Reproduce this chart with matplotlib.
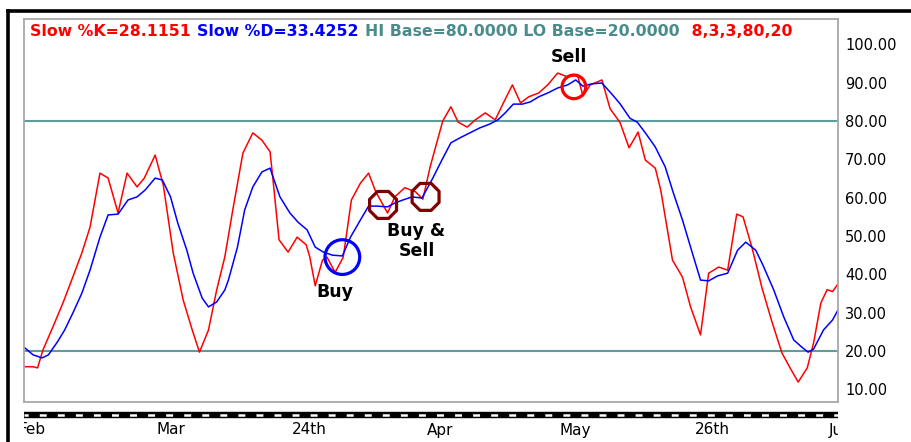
import matplotlib
matplotlib.use("Agg")
import matplotlib.pyplot as plt
from matplotlib.lines import Line2D
from matplotlib.ticker import FormatStrFormatter

plt.rcParams["lines.scale_dashes"] = False

# trading-day index (0 = left edge of the panel) and stochastic values
k_day = [0.1, 1.0, 1.5, 2.1, 3.2, 4.3, 5.4, 6.4, 7.3, 8.4, 9.3, 10.4, 11.4, 12.5,
         13.3, 14.5, 15.4, 16.5, 17.6, 18.6, 19.4, 20.4, 21.3, 22.2, 23.1, 24.2,
         25.3, 26.3, 27.2, 27.5, 28.2, 29.2, 30.2, 31.2, 31.6, 32.2, 33.0, 33.5,
         34.4, 35.3, 36.2, 37.2, 38.1, 38.9, 40.2, 41.0, 42.1, 43.3, 44.1, 44.9,
         46.3, 47.2, 48.0, 49.0, 49.9, 51.0, 52.1, 53.0, 54.0, 54.9, 55.8, 56.9,
         57.9, 59.0, 60.1, 61.2, 61.8, 62.6, 63.9, 64.8, 65.9, 66.9, 67.9, 68.7,
         69.8, 70.4, 71.7, 72.8, 73.7, 74.8, 75.7, 76.8, 77.8, 78.8, 79.5, 80.5,
         81.6, 82.7, 83.8, 84.7, 85.6, 86.6, 87.3, 88.1, 88.8, 89.4, 90.0]
k_val = [15.9, 15.9, 15.6, 20.3, 26.3, 32.5, 39.3, 45.6, 52.3, 66.4, 65.1, 56.0,
         66.4, 62.8, 65.1, 71.1, 63.3, 45.6, 33.3, 25.5, 19.7, 25.5, 35.9, 44.5,
         57.0, 71.6, 76.9, 75.0, 72.0, 65.4, 49.0, 45.8, 49.7, 47.7, 44.5, 37.0,
         43.7, 44.5, 40.5, 44.5, 59.4, 63.8, 66.4, 61.5, 56.0, 60.2, 62.6, 61.5,
         59.6, 68.0, 80.0, 83.7, 79.7, 78.4, 80.3, 82.1, 80.3, 84.7, 89.4, 84.7,
         86.3, 87.3, 89.4, 92.5, 91.5, 92.0, 86.5, 89.4, 90.7, 83.2, 79.6, 73.0,
         77.1, 69.8, 67.7, 62.0, 43.7, 39.3, 31.5, 24.2, 40.3, 41.9, 41.1, 55.7,
         55.0, 46.9, 36.4, 27.6, 19.5, 15.6, 11.9, 15.6, 22.1, 32.5, 36.0, 35.5,
         37.5]

d_day = [0.1, 1.0, 2.0, 2.7, 3.7, 4.5, 5.4, 6.4, 7.3, 8.4, 9.3, 10.4, 11.5, 12.5,
         13.4, 14.5, 15.3, 16.2, 17.0, 18.0, 18.7, 19.7, 20.4, 21.3, 22.2, 22.6,
         23.6, 24.4, 25.3, 26.3, 27.2, 28.3, 29.4, 30.3, 31.3, 32.2, 33.1, 34.1,
         35.2, 36.1, 37.2, 38.1, 39.0, 40.2, 41.0, 41.9, 42.9, 44.0, 45.2, 46.2,
         47.2, 48.2, 49.3, 50.4, 51.5, 52.4, 53.2, 54.1, 55.1, 56.0, 56.9, 57.9,
         59.0, 60.1, 61.0, 61.8, 62.8, 63.9, 65.0, 65.9, 67.0, 67.8, 68.7, 69.8,
         70.9, 71.8, 72.8, 73.7, 74.8, 75.7, 76.7, 77.8, 78.9, 79.8, 80.9, 81.7,
         82.9, 84.0, 85.1, 86.1, 86.7, 87.3, 88.4, 89.4, 90.0]
d_val = [20.8, 19.0, 18.2, 19.0, 22.4, 25.5, 29.9, 35.1, 41.1, 49.7, 55.5, 55.7,
         59.4, 60.2, 62.0, 65.1, 64.6, 60.2, 53.4, 46.3, 40.3, 33.8, 31.5, 32.8,
         35.9, 38.5, 47.1, 56.8, 62.8, 66.7, 67.7, 60.2, 56.0, 53.6, 51.6, 47.1,
         45.8, 45.0, 44.8, 49.7, 54.2, 57.8, 57.8, 57.6, 58.6, 59.4, 60.2, 59.9,
         65.1, 69.8, 74.3, 75.6, 76.9, 78.2, 79.2, 80.3, 82.1, 84.4, 84.4, 85.0,
         86.3, 87.3, 88.6, 89.4, 90.7, 89.1, 89.7, 89.9, 87.0, 84.5, 80.7, 79.7,
         76.9, 73.2, 68.0, 61.2, 54.2, 47.1, 38.5, 38.3, 39.6, 40.3, 46.3, 48.4,
         46.3, 42.4, 35.9, 28.9, 22.9, 20.8, 19.7, 20.5, 25.5, 28.1, 30.7]

hi_base = 80
lo_base = 20

# signal circles: (day, value)
buy_day, buy_val = 35.2, 44.5
buysell_days = [39.7, 44.4]
buysell_vals = [58.1, 60.2]
sell_day, sell_val = 60.8, 88.9

date_labels = ["Feb", "Mar", "24th", "Apr", "May", "26th", "Jun"]
date_days = [0.9, 16.3, 31.6, 46.0, 61.0, 76.1, 90.3]

y_ticks = [10, 20, 30, 40, 50, 60, 70, 80, 90, 100]

title_parts = [("Slow %K=28.1151", "#ff0000"),
               ("Slow %D=33.4252", "#0000ff"),
               ("HI Base=80.0000 LO Base=20.0000", "#4a8c8c"),
               (" 8,3,3,80,20", "#ff0000")]

TEAL = "#5f9c9c"
GRAY = "#a8a8a8"

fig = plt.figure(figsize=(9.12, 4.42), dpi=100)
ax = fig.add_axes([24 / 912, 1 - 402 / 442, 814 / 912, 383 / 442])

ax.plot(k_day, k_val, color="#ff0000", lw=1.1)
ax.plot(d_day, d_val, color="#0000ff", lw=1.1)
ax.axhline(hi_base, color=TEAL, lw=1.5, zorder=1)
ax.axhline(lo_base, color=TEAL, lw=1.5, zorder=1)

ax.scatter([buy_day], [buy_val], s=25 ** 2, facecolors="none",
           edgecolors="#0000ff", linewidths=2.3, zorder=5)
ax.scatter(buysell_days, buysell_vals, s=21 ** 2, marker="8", facecolors="none",
           edgecolors="#800000", linewidths=2.3, zorder=5)
ax.scatter([sell_day], [sell_val], s=17 ** 2, facecolors="none",
           edgecolors="#ff0000", linewidths=2.3, zorder=5)

ax.text(34.4, 35.4, "Buy", ha="center", va="center", fontsize=12.5,
        fontweight="bold", color="black")
ax.text(43.4, 48.7, "Buy &\nSell", ha="center", va="center", fontsize=12.5,
        fontweight="bold", color="black", linespacing=1.2)
ax.text(60.2, 96.7, "Sell", ha="center", va="center", fontsize=12.5,
        fontweight="bold", color="black")

ax.set_xlim(0, 90)
ax.set_ylim(6.7, 106.6)
ax.set_xticks([])
ax.yaxis.tick_right()
ax.set_yticks(y_ticks)
ax.yaxis.set_major_formatter(FormatStrFormatter("%.2f"))
ax.tick_params(axis="y", length=0, pad=5, labelsize=10.5, labelcolor="black")
for sp in ax.spines.values():
    sp.set_color(GRAY)
    sp.set_linewidth(1.3)

# coloured legend line at the top of the panel
prev = ax.text(30 / 912, 1 - 31 / 442, title_parts[0][0], transform=fig.transFigure,
               color=title_parts[0][1], fontsize=11.3, fontweight="bold",
               ha="left", va="center")
for txt, col in title_parts[1:]:
    prev = ax.annotate(txt, xy=(1, 0.5), xycoords=prev, xytext=(4.5, 0),
                       textcoords="offset points", color=col, fontsize=11.3,
                       fontweight="bold", ha="left", va="center")

# date strip under the panel
strip = fig.add_axes([24 / 912, 0, 814 / 912, 38 / 442])
strip.set_xlim(0, 90)
strip.set_ylim(38, 0)
strip.axis("off")
strip.axhline(11, color="black", lw=4.6)
strip.axhline(11.3, color="white", lw=1.8, linestyle=(2, (5, 8)))
for lab, d in zip(date_labels, date_days):
    strip.text(d, 26, lab, ha="center", va="center", fontsize=11,
               color="black", clip_on=True)

# outer black frame
fig.add_artist(Line2D([8 / 912, 8 / 912], [0, 1 - 11 / 442], color="black",
                      lw=2.6, transform=fig.transFigure))
fig.add_artist(Line2D([8 / 912, 1], [1 - 11 / 442, 1 - 11 / 442], color="black",
                      lw=2.6, transform=fig.transFigure))

fig.savefig("out.png", dpi=100)
